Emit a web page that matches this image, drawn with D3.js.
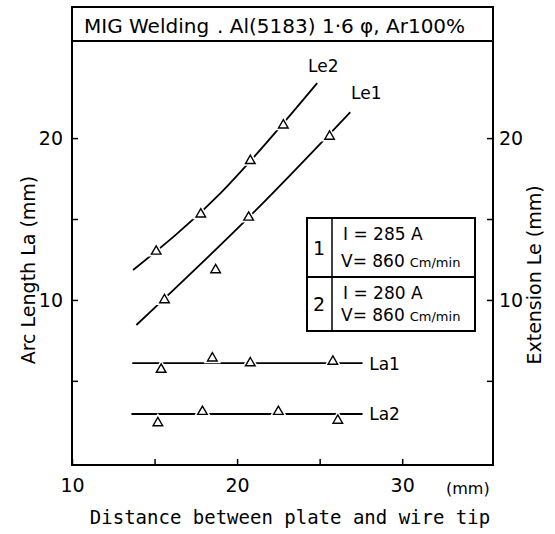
<!DOCTYPE html>
<html>
<head>
<meta charset="utf-8">
<script src="https://cdn.jsdelivr.net/npm/d3@7"></script>
<style>
  body { margin: 0; background: #fff; }
  text { font-family: "DejaVu Sans", sans-serif; fill: #000; }
  .mono { font-family: "DejaVu Sans Mono", monospace; }
</style>
</head>
<body>
<svg id="chart" width="555" height="534"></svg>
<script>
// measured points (distance mm, length mm)
var le2Points = [[15.1, 13.0], [17.8, 15.3], [20.8, 18.6], [22.8, 20.8]];
var le1Points = [[15.6, 10.0], [18.7, 11.85], [20.7, 15.1], [25.6, 20.1]];
var la1Points = [[15.4, 5.7], [18.5, 6.4], [20.8, 6.1], [25.8, 6.2]];
var la2Points = [[15.2, 2.4], [17.9, 3.1], [22.5, 3.1], [26.1, 2.55]];

// fitted lines
var le2Fit = [[13.7, 11.85], [19.0, 16.6], [24.85, 23.4]];
var le1Fit = [[13.9, 8.45], [20.7, 15.1], [26.85, 21.6]];
var la1Fit = [[13.65, 6.1], [27.6, 6.1]];
var la2Fit = [[13.6, 2.95], [27.6, 2.95]];

var curveNames = ["Le2", "Le1", "La1", "La2"];
var xTicks = [10, 15, 20, 25, 30];
var yTicks = [5, 10, 15, 20];
var tickLabels = [10, 20, 30];

var svg = d3.select("#chart");

var x = d3.scaleLinear().domain([10, 35.5]).range([72, 493]);
var y = d3.scaleLinear().domain([-0.2, 26]).range([465, 41]);

// frame + title box
svg.append("rect")
  .attr("x", 72).attr("y", 7)
  .attr("width", 421).attr("height", 458)
  .attr("fill", "none").attr("stroke", "#000").attr("stroke-width", 2);
svg.append("line")
  .attr("x1", 72).attr("x2", 493).attr("y1", 41).attr("y2", 41)
  .attr("stroke", "#000").attr("stroke-width", 2);

var title = svg.append("text").attr("x", 84).attr("y", 33).style("font-size", "20px");
title.append("tspan").text("MIG Welding");
title.append("tspan").attr("dx", 8).text(". Al(5183) 1·6 φ, Ar100%");

// axes
function fmt(d) { return tickLabels.indexOf(d) >= 0 ? d : ""; }

var xAxis = svg.append("g")
  .attr("transform", "translate(0," + 465 + ")")
  .call(d3.axisBottom(x).tickValues(xTicks).tickSize(-6).tickPadding(14).tickFormat(fmt));
var yAxisL = svg.append("g")
  .attr("transform", "translate(72,0)")
  .call(d3.axisLeft(y).tickValues(yTicks).tickSize(-6).tickPadding(9).tickFormat(fmt));
var yAxisR = svg.append("g")
  .attr("transform", "translate(493,0)")
  .call(d3.axisRight(y).tickValues(yTicks).tickSize(-6).tickPadding(6).tickFormat(fmt));

[xAxis, yAxisL, yAxisR].forEach(function (g) {
  g.select(".domain").remove();
  g.selectAll("line").attr("stroke", "#000").attr("stroke-width", 1.5);
  g.selectAll("text").style("font-size", "19px").style("font-family", "DejaVu Sans, sans-serif");
});

svg.append("text").attr("x", 446).attr("y", 494).style("font-size", "16px").text("(mm)");

svg.append("text").attr("class", "mono")
  .attr("x", 290).attr("y", 524).attr("text-anchor", "middle")
  .style("font-size", "19px").text("Distance between plate and  wire tip");

svg.append("text")
  .attr("transform", "translate(35,270) rotate(-90)")
  .attr("text-anchor", "middle").style("font-size", "19px")
  .text("Arc Length  La  (mm)");
svg.append("text")
  .attr("transform", "translate(541,275) rotate(-90)")
  .attr("text-anchor", "middle").style("font-size", "19px")
  .text("Extension  Le  (mm)");

// fitted lines
var line = d3.line().x(function (d) { return x(d[0]); }).y(function (d) { return y(d[1]); })
  .curve(d3.curveNatural);
[le2Fit, le1Fit, la1Fit, la2Fit].forEach(function (f) {
  svg.append("path").attr("d", line(f))
    .attr("fill", "none").attr("stroke", "#000").attr("stroke-width", 1.8);
});

// markers: white gap behind an open triangle
var tri = d3.symbol().type(d3.symbolTriangle);
var allPoints = le2Points.concat(le1Points, la1Points, la2Points);
svg.selectAll("path.gap").data(allPoints).enter().append("path")
  .attr("class", "gap")
  .attr("d", tri.size(130)())
  .attr("transform", function (d) { return "translate(" + x(d[0]) + "," + y(d[1]) + ")"; })
  .attr("fill", "#fff");
svg.selectAll("path.marker").data(allPoints).enter().append("path")
  .attr("class", "marker")
  .attr("d", tri.size(40)())
  .attr("transform", function (d) { return "translate(" + x(d[0]) + "," + y(d[1]) + ")"; })
  .attr("fill", "#fff").attr("stroke", "#000").attr("stroke-width", 1.4);

// curve labels
var labelPos = [[24.3, 24.1], [26.9, 22.4], [28.0, 5.7], [28.0, 2.55]];
svg.selectAll("text.curve").data(curveNames).enter().append("text")
  .attr("class", "curve")
  .attr("x", function (d, i) { return x(labelPos[i][0]); })
  .attr("y", function (d, i) { return y(labelPos[i][1]); })
  .style("font-size", "17px")
  .text(function (d) { return d; });

// condition table
var tbl = svg.append("g");
tbl.append("rect").attr("x", 307).attr("y", 218).attr("width", 168).attr("height", 113)
  .attr("fill", "#fff").attr("stroke", "#000").attr("stroke-width", 2);
tbl.append("line").attr("x1", 307).attr("x2", 475).attr("y1", 277).attr("y2", 277)
  .attr("stroke", "#000").attr("stroke-width", 2);
tbl.append("line").attr("x1", 332).attr("x2", 332).attr("y1", 218).attr("y2", 331)
  .attr("stroke", "#000").attr("stroke-width", 1.5);

var rowNums = ["1", "2"];
var rowCurrent = ["I = 285 A", "I = 280 A"];
var rowSpeed = ["860", "860"];
rowNums.forEach(function (n, i) {
  var top = i === 0 ? 218 : 277;
  var h = i === 0 ? 59 : 54;
  tbl.append("text").attr("x", 319).attr("y", top + h / 2 + 7)
    .attr("text-anchor", "middle").style("font-size", "19px").text(n);
  tbl.append("text").attr("x", 343).attr("y", top + 22)
    .style("font-size", "17px").text(rowCurrent[i]);
  var v = tbl.append("text").attr("x", 341).attr("y", top + h - 10).style("font-size", "17px");
  v.append("tspan").text("V= " + rowSpeed[i]);
  v.append("tspan").attr("dx", 5).style("font-size", "13px").text("Cm/min");
});
</script>
</body>
</html>
